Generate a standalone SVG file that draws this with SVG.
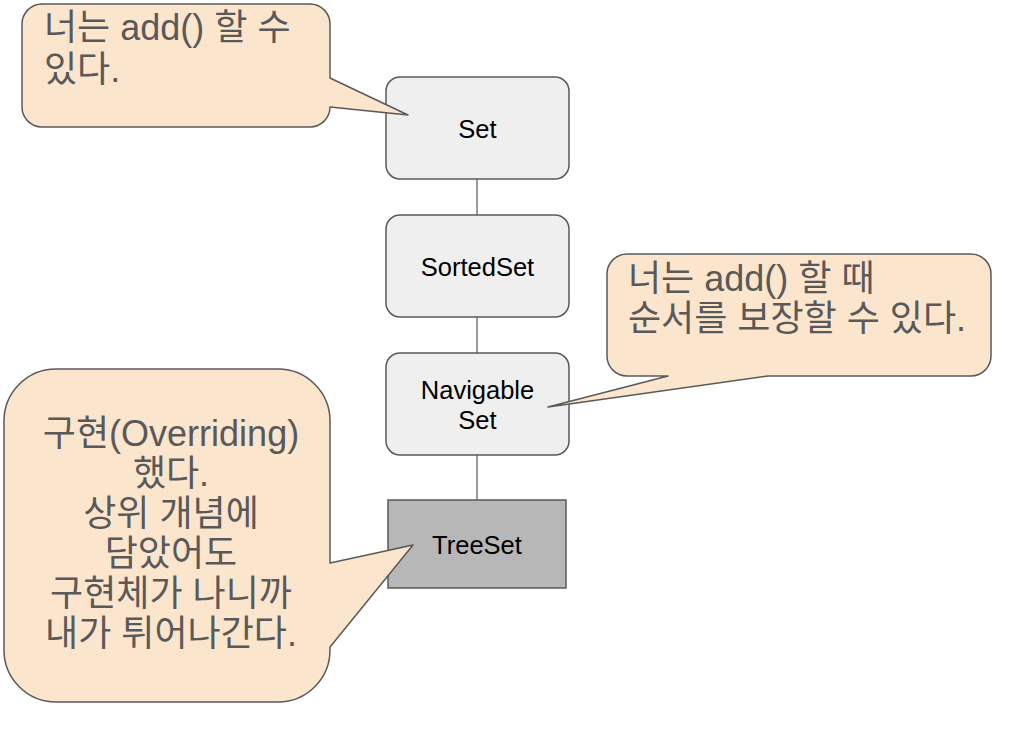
<svg xmlns="http://www.w3.org/2000/svg" width="1033" height="745" viewBox="0 0 1033 745">
<style>
.call{fill:#fce5cd;stroke:#595959;stroke-width:1.5;stroke-linejoin:round}
.ct{font-family:"Liberation Sans","Noto Sans CJK KR",sans-serif;font-size:36px;fill:#595959}
.box{fill:#efefef;stroke:#595959;stroke-width:1.5}
.leaf{fill:#b7b7b7;stroke:#595959;stroke-width:1.5}
.bt{font-family:"Liberation Sans","Noto Sans CJK KR",sans-serif;font-size:25.5px;fill:#000;text-anchor:middle}
.conn{stroke:#595959;stroke-width:1.2;fill:none}
</style>
<rect width="1033" height="745" fill="#fff"/>
<g id="connectors">
<line class="conn" x1="477" y1="179" x2="477" y2="215"/>
<line class="conn" x1="477" y1="317" x2="477" y2="353"/>
<line class="conn" x1="477" y1="455" x2="477" y2="500"/>
</g>
<g id="set">
<rect class="box" x="386" y="77" width="183" height="102" rx="14"/>
<text class="bt" x="477.5" y="138">Set</text>
</g>
<g id="sortedset">
<rect class="box" x="386" y="215" width="183" height="102" rx="14"/>
<text class="bt" x="477.5" y="276">SortedSet</text>
</g>
<g id="navigableset">
<rect class="box" x="386" y="353" width="183" height="102" rx="14"/>
<text class="bt" x="477.5" y="399">Navigable</text>
<text class="bt" x="477.5" y="429">Set</text>
</g>
<g id="treeset">
<rect class="leaf" x="388" y="500" width="178" height="88"/>
<text class="bt" x="477" y="554">TreeSet</text>
</g>
<g id="callout1">
<path class="call" d="M42,4 H310 A20,20 0 0 1 330,24 V78 L408,115 L330,107 A20,20 0 0 1 310,127 H42 A20,20 0 0 1 22,107 V24 A20,20 0 0 1 42,4 Z"/>
<text class="ct" x="44" y="40">너는 add() 할 수</text>
<text class="ct" x="44" y="82">있다.</text>
</g>
<g id="callout2">
<path class="call" d="M627,254 H971 A20,20 0 0 1 991,274 V356 A20,20 0 0 1 971,376 H768 L548,407 L668,376 H627 A20,20 0 0 1 607,356 V274 A20,20 0 0 1 627,254 Z"/>
<text class="ct" x="628" y="291">너는 add() 할 때</text>
<text class="ct" x="628" y="331">순서를 보장할 수 있다.</text>
</g>
<g id="callout3">
<path class="call" d="M56,369 H278 A52,52 0 0 1 330,421 V563 L413,545 L330,647 V650 A52,52 0 0 1 278,702 H56 A52,52 0 0 1 4,650 V421 A52,52 0 0 1 56,369 Z"/>
<g style="text-anchor:middle">
<text class="ct" x="171" y="446">구현(Overriding)</text>
<text class="ct" x="171" y="486">했다.</text>
<text class="ct" x="171" y="526">상위 개념에</text>
<text class="ct" x="171" y="566">담았어도</text>
<text class="ct" x="171" y="606">구현체가 나니까</text>
<text class="ct" x="171" y="646">내가 튀어나간다.</text>
</g>
</g>
</svg>
